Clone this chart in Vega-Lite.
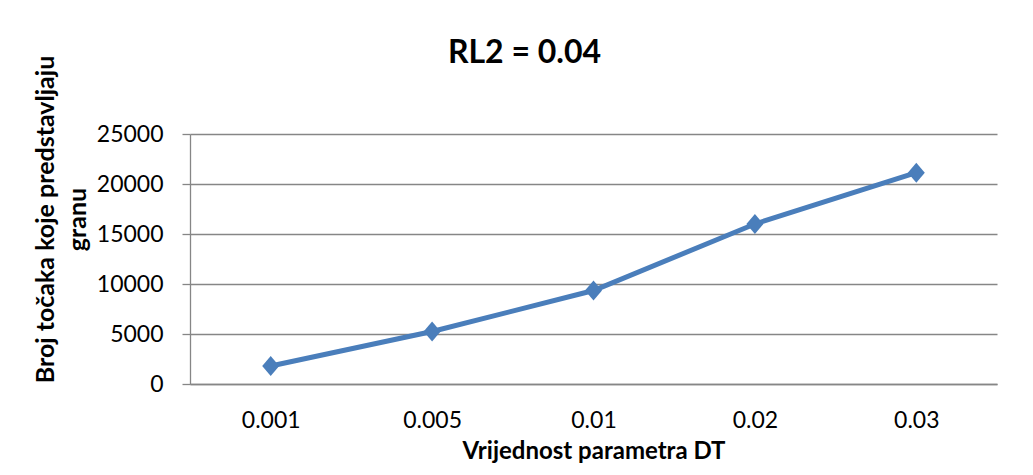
{
  "$schema": "https://vega.github.io/schema/vega-lite/v6.json",
  "width": 807,
  "height": 250,
  "autosize": {"type": "none"},
  "padding": {"left": 190, "top": 134, "right": 36, "bottom": 91},
  "background": "white",
  "title": {
    "text": "RL2 = 0.04",
    "font": "Lato",
    "fontSize": 32,
    "fontWeight": "bold",
    "color": "black",
    "anchor": "middle",
    "baseline": "alphabetic",
    "offset": -40,
    "dx": -69
  },
  "data": {
    "values": [
      {"dt": "0.001", "broj": 1800},
      {"dt": "0.005", "broj": 5250},
      {"dt": "0.01", "broj": 9350},
      {"dt": "0.02", "broj": 16000},
      {"dt": "0.03", "broj": 21130}
    ]
  },
  "encoding": {
    "x": {
      "field": "dt",
      "type": "ordinal",
      "sort": null,
      "scale": {"paddingInner": 0, "paddingOuter": 0},
      "axis": {
        "title": "Vrijednost parametra DT",
        "titleFont": "Lato",
        "titleFontSize": 24,
        "titleFontWeight": "bold",
        "titleColor": "black",
        "titleBaseline": "alphabetic",
        "titleY": 74,
        "labelAngle": 0,
        "labelFont": "Lato",
        "labelFontSize": 23,
        "labelColor": "black",
        "labelPadding": 25,
        "ticks": false,
        "domain": true,
        "domainColor": "#868686",
        "domainWidth": 1.3,
        "grid": false
      }
    },
    "y": {
      "field": "broj",
      "type": "quantitative",
      "scale": {"domain": [0, 25000]},
      "axis": {
        "title": ["Broj točaka koje predstavljaju", "granu"],
        "titleFont": "Lato",
        "titleFontSize": 25,
        "titleFontWeight": "bold",
        "titleColor": "black",
        "titleAngle": -90,
        "titleAlign": "center",
        "titleBaseline": "alphabetic",
        "titleLineHeight": 32,
        "titleX": -137,
        "titleY": 85,
        "values": [0, 5000, 10000, 15000, 20000, 25000],
        "format": "d",
        "labelFont": "Lato",
        "labelFontSize": 23,
        "labelColor": "black",
        "labelPadding": 19,
        "tickSize": 8,
        "tickColor": "#868686",
        "tickWidth": 1.3,
        "domainColor": "#868686",
        "domainWidth": 1.3,
        "grid": true,
        "gridColor": "#868686",
        "gridWidth": 1.3
      }
    }
  },
  "layer": [
    {
      "mark": {"type": "line", "color": "#4A7EBB", "strokeWidth": 5}
    },
    {
      "mark": {
        "type": "point",
        "shape": "M0,-1L0.85,0L0,1L-0.85,0Z",
        "size": 400,
        "filled": true,
        "opacity": 1,
        "color": "#4A7EBB"
      }
    }
  ],
  "config": {
    "view": {"stroke": null}
  }
}
